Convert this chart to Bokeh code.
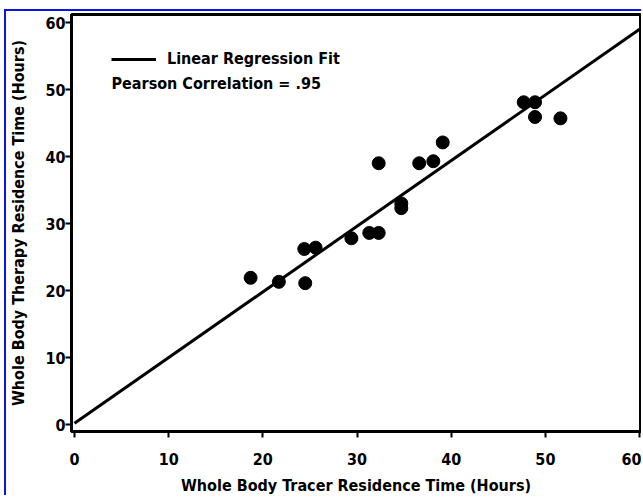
from bokeh.plotting import figure
from bokeh.models import Legend, LegendItem, Label, Range1d
from bokeh.embed import file_html
from bokeh.resources import INLINE

# Data
tracer_hours = [18.7, 21.7, 24.5, 24.4, 25.6, 29.4, 31.3, 32.3, 32.3, 34.7, 34.7,
                36.6, 38.1, 39.1, 47.7, 48.9, 48.9, 51.6]
therapy_hours = [21.9, 21.3, 21.1, 26.2, 26.4, 27.8, 28.6, 28.6, 39.0, 33.0, 32.3,
                 39.0, 39.3, 42.1, 48.1, 48.1, 45.9, 45.7]
fit_x = [0, 60]
fit_y = [0.2, 59.0]
ticks = [0, 10, 20, 30, 40, 50, 60]
legend_label = "Linear Regression Fit"
corr_label = "Pearson Correlation = .95"
x_title = "Whole Body Tracer Residence Time (Hours)"
y_title = "Whole Body Therapy Residence Time (Hours)"

FONT = "DejaVu Sans Condensed"

p = figure(width=637, height=486, output_backend="svg", toolbar_location=None,
           x_range=Range1d(-0.32, 60.1), y_range=Range1d(-1.04, 61.2),
           min_border_left=64, min_border_right=3, min_border_top=3, min_border_bottom=65)
p.styles = {"border-top": "2px solid #0a14e6", "border-left": "2px solid #0a14e6",
            "margin-left": "4px", "margin-top": "9px"}

p.background_fill_color = "white"
p.border_fill_color = "white"
p.xgrid.visible = False
p.ygrid.visible = False
p.outline_line_color = "black"
p.outline_line_width = 3

for ax in (p.xaxis[0], p.yaxis[0]):
    ax.ticker = ticks
    ax.ticker.num_minor_ticks = 5
    ax.axis_line_width = 3
    ax.axis_line_color = "black"
    ax.major_tick_in = 0
    ax.major_tick_out = 6
    ax.major_tick_line_width = 2
    ax.minor_tick_in = 0
    ax.minor_tick_out = 4
    ax.minor_tick_line_width = 2
    ax.minor_tick_line_color = "#333333"
    ax.major_label_text_font = FONT
    ax.major_label_text_font_style = "bold"
    ax.major_label_text_font_size = "16px"
    ax.major_label_text_color = "black"
    ax.axis_label_text_font = FONT
    ax.axis_label_text_font_style = "bold"
    ax.axis_label_text_font_size = "16px"
    ax.axis_label_text_color = "black"

p.xaxis.axis_label = x_title
p.yaxis.axis_label = y_title
p.xaxis.major_label_standoff = 15
p.xaxis.axis_label_standoff = 8
p.yaxis.major_label_standoff = 0
p.yaxis.axis_label_standoff = 14

fit = p.line(fit_x, fit_y, line_width=3, line_color="black")
p.scatter(tracer_hours, therapy_hours, size=13, marker="circle",
          fill_color="black", line_color="black")

legend = Legend(items=[LegendItem(label=legend_label, renderers=[fit])],
                location=(40, 363), orientation="vertical",
                glyph_width=45, glyph_height=16, label_height=16,
                label_standoff=11, padding=0, margin=0, spacing=0,
                border_line_alpha=0, background_fill_alpha=0,
                label_text_font=FONT, label_text_font_style="bold",
                label_text_font_size="16px", label_text_color="black")
p.add_layout(legend, "center")

p.add_layout(Label(x=40, y=348, x_units="screen", y_units="screen",
                   text=corr_label, text_font=FONT, text_font_style="bold",
                   text_font_size="16px", text_color="black",
                   text_baseline="middle"))

open("out.html", "w").write(file_html(p, INLINE))
